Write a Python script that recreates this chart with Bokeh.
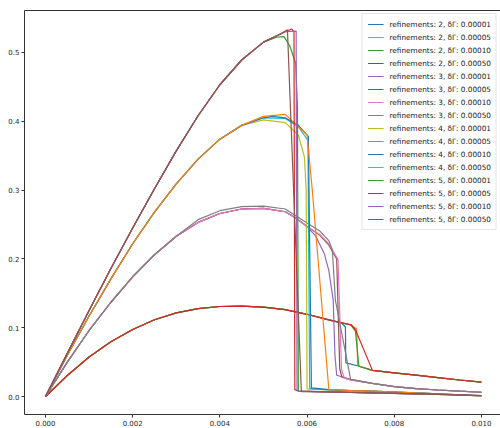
from bokeh.plotting import figure
from bokeh.models import (Range1d, LinearAxis, FixedTicker, Legend, LegendItem,
                          NumeralTickFormatter)
from bokeh.embed import file_html
from bokeh.resources import INLINE

# ---------------- data ----------------
refinements = [2, 3, 4, 5]
deltas = ["0.00001", "0.00005", "0.00010", "0.00050"]

# refinement 2: shared rising part
r2_x = [0, 0.0005, 0.001, 0.0015, 0.002, 0.0025, 0.003, 0.0035, 0.004, 0.0045, 0.005, 0.0055, 0.006, 0.0065]
r2_y = [0, 0.0305, 0.0575, 0.0795, 0.0975, 0.1115, 0.1215, 0.1278, 0.1308, 0.1313, 0.1298, 0.1262, 0.1195, 0.1115]
r2_d1_x = [0.0068, 0.00688, 0.00689, 0.0072]
r2_d1_y = [0.1065, 0.1010, 0.049, 0.044]
r2_d2_x = [0.0070, 0.00714, 0.00716, 0.0072]
r2_d2_y = [0.104, 0.098, 0.046, 0.044]
r2_d3_x = [0.0070, 0.00711, 0.00719]
r2_d3_y = [0.104, 0.095, 0.044]
r2_d4_x = [0.00702, 0.00711]
r2_d4_y = [0.104, 0.097]
r2_tail_x = [0.0075, 0.008, 0.0085, 0.009, 0.0095, 0.010]
r2_tail_y = [0.038, 0.0345, 0.031, 0.0275, 0.024, 0.021]

# refinement 3
r3_x = [0, 0.0005, 0.001, 0.0015, 0.002, 0.0025, 0.003, 0.0035, 0.004, 0.0045, 0.005, 0.0055, 0.00575, 0.006]
r3_y = [0, 0.050, 0.096, 0.137, 0.174, 0.206, 0.233, 0.253, 0.266, 0.2725, 0.2735, 0.2685, 0.259, 0.247]
r3_d1_x = [0.0062, 0.0064, 0.0065, 0.0066, 0.00664, 0.00668, 0.0070]
r3_d1_y = [0.233, 0.207, 0.183, 0.140, 0.060, 0.031, 0.025]
r3_d2_x = [0.0063, 0.0065, 0.00668, 0.00675, 0.0068, 0.0070]
r3_d2_y = [0.234, 0.220, 0.200, 0.040, 0.028, 0.024]
r3_d3_x = [0.0063, 0.0065, 0.00671, 0.00679, 0.00685, 0.0070]
r3_d3_y = [0.235, 0.222, 0.199, 0.040, 0.027, 0.024]
r3_d4_x = [0.0035, 0.004, 0.0045, 0.005, 0.0055, 0.006, 0.0063, 0.0065, 0.00658, 0.00665, 0.0070]
r3_d4_y = [0.257, 0.270, 0.276, 0.2768, 0.2725, 0.252, 0.240, 0.2265, 0.213, 0.140, 0.025]
r3_tail_x = [0.0075, 0.008, 0.0085, 0.009, 0.0095, 0.010]
r3_tail_y = [0.019, 0.0145, 0.0115, 0.0095, 0.0078, 0.0062]

# refinement 4
r4_x = [0, 0.0005, 0.001, 0.0015, 0.002, 0.0025, 0.003, 0.0035, 0.004, 0.0045]
r4_y = [0, 0.060, 0.117, 0.171, 0.222, 0.268, 0.309, 0.345, 0.374, 0.394]
r4_d1_x = [0.005, 0.0055, 0.0058, 0.00594, 0.00598, 0.0060, 0.0063]
r4_d1_y = [0.402, 0.398, 0.380, 0.348, 0.300, 0.011, 0.010]
r4_d2_x = [0.005, 0.0055, 0.0058, 0.00602, 0.00606, 0.0065]
r4_d2_y = [0.405, 0.404, 0.392, 0.372, 0.012, 0.0095]
r4_d3_x = [0.005, 0.0052, 0.0055, 0.0058, 0.00603, 0.0061, 0.0065]
r4_d3_y = [0.405, 0.407, 0.405, 0.394, 0.378, 0.0126, 0.010]
r4_d4_x = [0.005, 0.0055, 0.0060, 0.00612, 0.0065]
r4_d4_y = [0.407, 0.410, 0.380, 0.300, 0.010]
r4_tail_x = [0.007, 0.0075, 0.008, 0.0085, 0.009, 0.0095, 0.010]
r4_tail_y = [0.0088, 0.0078, 0.0066, 0.0052, 0.004, 0.0025, 0.0008]

# refinement 5
r5_x = [0, 0.0005, 0.001, 0.0015, 0.002, 0.0025, 0.003, 0.0035, 0.004, 0.0045, 0.005]
r5_y = [0, 0.063, 0.125, 0.186, 0.245, 0.302, 0.357, 0.408, 0.453, 0.489, 0.515]
r5_d1_x = [0.0053, 0.00547, 0.0056, 0.00574, 0.00578, 0.0058]
r5_d1_y = [0.522, 0.523, 0.510, 0.484, 0.420, 0.008]
r5_d2_x = [0.0055, 0.00565, 0.0057, 0.00572, 0.0058]
r5_d2_y = [0.530, 0.534, 0.530, 0.010, 0.008]
r5_d3_x = [0.0055, 0.00575, 0.00577, 0.0058]
r5_d3_y = [0.530, 0.531, 0.010, 0.008]
r5_d4_x = [0.0054, 0.00555, 0.00587]
r5_d4_y = [0.527, 0.533, 0.007]
r5_tail_x = [0.0065, 0.007, 0.0075, 0.008, 0.0085, 0.009, 0.0095, 0.010]
r5_tail_y = [0.0068, 0.006, 0.0052, 0.0045, 0.0038, 0.003, 0.0022, 0.0015]

x_ticks = [0.000, 0.002, 0.004, 0.006, 0.008, 0.010]
y_ticks = [0.0, 0.1, 0.2, 0.3, 0.4, 0.5]

# ---------------- series assembly ----------------
def join(base_x, base_y, mid_x, mid_y, tail_x, tail_y):
    n = len([v for v in base_x if v < mid_x[0]])
    return base_x[:n] + mid_x + tail_x, base_y[:n] + mid_y + tail_y

series = []
for mid in [(r2_d1_x, r2_d1_y), (r2_d2_x, r2_d2_y), (r2_d3_x, r2_d3_y), (r2_d4_x, r2_d4_y)]:
    series.append(join(r2_x, r2_y, mid[0], mid[1], r2_tail_x, r2_tail_y))
for mid in [(r3_d1_x, r3_d1_y), (r3_d2_x, r3_d2_y), (r3_d3_x, r3_d3_y), (r3_d4_x, r3_d4_y)]:
    series.append(join(r3_x, r3_y, mid[0], mid[1], r3_tail_x, r3_tail_y))
for mid in [(r4_d1_x, r4_d1_y), (r4_d2_x, r4_d2_y), (r4_d3_x, r4_d3_y), (r4_d4_x, r4_d4_y)]:
    series.append(join(r4_x, r4_y, mid[0], mid[1], r4_tail_x, r4_tail_y))
for mid in [(r5_d1_x, r5_d1_y), (r5_d2_x, r5_d2_y), (r5_d3_x, r5_d3_y), (r5_d4_x, r5_d4_y)]:
    series.append(join(r5_x, r5_y, mid[0], mid[1], r5_tail_x, r5_tail_y))

tab10 = ["#1f77b4", "#ff7f0e", "#2ca02c", "#d62728", "#9467bd",
         "#8c564b", "#e377c2", "#7f7f7f", "#bcbd22", "#17becf"]

FONT = "DejaVu Sans"

p = figure(width=500, height=428,
           x_range=Range1d(-0.000482, 0.010438), y_range=Range1d(-0.0261, 0.5609),
           output_backend="svg", toolbar_location=None,
           min_border_left=24, min_border_right=0, min_border_top=10, min_border_bottom=13)
p.xgrid.visible = False
p.ygrid.visible = False
p.outline_line_color = None
p.background_fill_color = "white"
p.border_fill_color = "white"

for ax, ticks, fmt in [(p.xaxis[0], x_ticks, "0.000"), (p.yaxis[0], y_ticks, "0.0")]:
    ax.ticker = FixedTicker(ticks=ticks)
    ax.formatter = NumeralTickFormatter(format=fmt)
    ax.minor_tick_line_color = None
    ax.major_tick_in = 0
    ax.major_tick_out = 3
    ax.major_label_standoff = 2
    ax.axis_label_standoff = 0
    ax.major_label_text_font = FONT
    ax.major_label_text_font_size = "7px"
    ax.major_label_text_color = "#262626"
    ax.axis_line_color = "#333333"
    ax.major_tick_line_color = "#333333"

top = LinearAxis(ticker=FixedTicker(ticks=[]), major_tick_out=0, major_tick_in=0,
                 minor_tick_out=0, minor_tick_in=0, major_label_standoff=0,
                 axis_label_standoff=0,
                 axis_line_color="#333333", major_label_text_font_size="0px")
p.add_layout(top, "above")

items = []
k = 0
for ri, ref in enumerate(refinements):
    for di, d in enumerate(deltas):
        xs, ys = series[k]
        r = p.line(xs, ys, line_color=tab10[k % 10], line_width=1.2)
        items.append(LegendItem(label=f"refinements: {ref}, δΓ: {d}", renderers=[r]))
        k += 1

legend = Legend(items=items, location="top_right", margin=3, padding=5,
                spacing=3, glyph_width=16, glyph_height=10, label_height=10,
                label_standoff=6, label_text_font=FONT, label_text_font_size="7.3px",
                label_text_color="#222222", border_line_color="#cccccc",
                border_line_width=1, background_fill_alpha=0.8)
p.add_layout(legend)

open("out.html", "w").write(file_html(p, INLINE))
